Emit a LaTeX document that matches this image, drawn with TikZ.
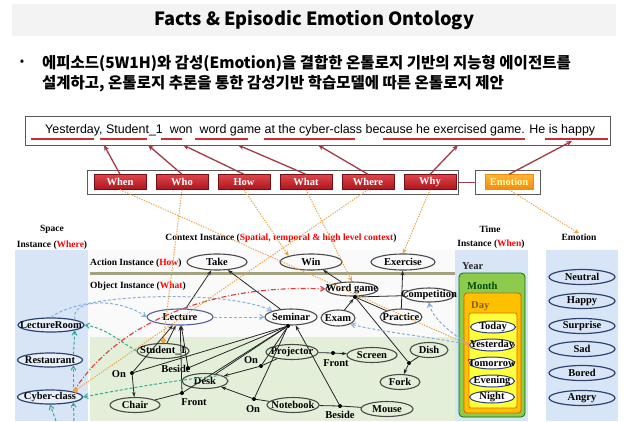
\documentclass[tikz,border=0pt]{standalone}
\usepackage{fontspec}
\setmainfont{Liberation Serif}
\newfontfamily\krfont{Noto Sans CJK KR}
\newfontfamily\snsfont{Liberation Sans}
\usetikzlibrary{shapes.geometric,arrows.meta}
\definecolor{panelblue}{HTML}{D7E5F6}
\definecolor{greenarea}{HTML}{E3EFD9}
\definecolor{navy}{HTML}{2E4372}
\definecolor{ellgray}{HTML}{4A4A4A}
\definecolor{lectblue}{HTML}{55609A}
\definecolor{boxtop}{HTML}{E0454A}
\definecolor{boxbot}{HTML}{A8161C}
\definecolor{darkred}{HTML}{A33A45}
\definecolor{ulred}{HTML}{D22A30}
\definecolor{orangeL}{HTML}{EFA443}
\definecolor{emotop}{HTML}{FFB43A}
\definecolor{emobot}{HTML}{F08C0C}
\definecolor{bluedash}{HTML}{86AEE0}
\definecolor{tealdash}{HTML}{35A89A}
\definecolor{reddash}{HTML}{E23A3A}
\definecolor{bargray}{HTML}{A3A382}
\definecolor{yeargreen}{HTML}{8CCB4E}
\definecolor{monthorange}{HTML}{FFC000}
\definecolor{dayyellow}{HTML}{FFFF3C}
\definecolor{titlegray}{HTML}{F3F3F3}
\newcommand\nodefnt{\fontsize{10.5}{10.5}\selectfont\bfseries}
\newcommand\smallfnt{\fontsize{8.5}{8.5}\selectfont\bfseries}
\begin{document}
\begin{tikzpicture}[x=1pt,y=-1pt,
  el/.style={ellipse, draw=ellgray, line width=1.1pt, inner sep=0pt, minimum height=15pt},
  sp/.style={ellipse, draw=navy, fill=white!40!panelblue, line width=1.2pt, inner sep=0pt, minimum height=14pt, minimum width=65pt},
  em/.style={ellipse, draw=navy, fill=panelblue, line width=1.2pt, inner sep=0pt, minimum height=15pt, minimum width=66pt},
  tm/.style={ellipse, draw=navy, fill=white, line width=1pt, inner sep=0pt, minimum height=12pt, minimum width=45pt,
     every label/.style={font=\smallfnt, inner sep=0pt}},
  every label/.style={font=\nodefnt, inner sep=0pt},
  dotn/.style={circle, fill=black, inner sep=0pt, minimum size=4pt},
  rel/.style={font=\nodefnt, inner sep=0pt},
  ttl/.style={font=\fontsize{9.5}{9.5}\selectfont\bfseries, inner sep=0pt},
  box5/.style={rectangle, top color=boxtop, bottom color=boxbot, draw=boxbot!70!black, line width=0.4pt,
     minimum width=52pt, minimum height=15pt, inner sep=0pt, text=white, font=\fontsize{10.5}{10.5}\selectfont\bfseries},
  arr/.style={draw=black!85, line width=0.8pt, -{Stealth[length=5pt,width=3.5pt]}},
  ln/.style={draw=black!85, line width=0.8pt},
  redarr/.style={draw=darkred, line width=1.3pt, -{Stealth[length=6pt,width=5pt]}},
  uline/.style={draw=ulred, line width=1.3pt},
  odot/.style={draw=orangeL, line width=1pt, dash pattern=on 1.3pt off 1.3pt, -{Stealth[length=5pt,width=4.5pt]}},
  odotc/.style={draw=orangeL, line width=1pt, dash pattern=on 1.3pt off 1.3pt, -{Circle[length=5pt]}},
  bdash/.style={draw=bluedash, line width=1pt, dash pattern=on 3pt off 2pt, -{Straight Barb[length=4pt,width=5pt]}},
  tdash/.style={draw=tealdash, line width=1pt, dash pattern=on 3pt off 2pt, -{Straight Barb[length=4pt,width=5pt]}},
  rdash/.style={draw=reddash, line width=1.1pt, dash pattern=on 5pt off 2pt on 1pt off 2pt, -{Straight Barb[length=4pt,width=5pt]}}
]
\useasboundingbox (0,0) rectangle (628,421);
\fill[white] (0,0) rectangle (628,421);

% ---------- title and bullet text ----------
\fill[titlegray] (12,4) rectangle (616,36);
\node (title) at (314,20) {\resizebox{320pt}{!}{\krfont\bfseries Facts \& Episodic Emotion Ontology}};
\node[font=\krfont\fontsize{13}{13}\selectfont, inner sep=0pt] (bullet) at (22,63) {•};
\node[anchor=west, inner sep=0pt, font=\krfont\bfseries\fontsize{15.5}{15.5}\selectfont] (kr1) at (42,63)
  {에피소드(5W1H)와 감성(Emotion)을 결합한 온톨로지 기반의 지능형 에이전트를};
\node[anchor=west, inner sep=0pt, font=\krfont\bfseries\fontsize{15.5}{15.5}\selectfont] (kr2) at (42,84)
  {설계하고, 온톨로지 추론을 통한 감성기반 학습모델에 따른 온톨로지 제안};

% ---------- sentence ----------
\node[draw=black!65, line width=1pt, fill=white, minimum width=585pt, minimum height=29pt, anchor=north west, inner sep=0pt] (sbox) at (25,116) {};
\node[anchor=west, inner sep=0pt] (sent) at (45,130)
  {\resizebox{550pt}{!}{\snsfont Yesterday, Student\_1\ \ won\ \ word game at the cyber-class because he exercised game. He is happy}};
\draw[uline] (31,139) -- (94,139);
\draw[uline] (100,139) -- (147,139);
\draw[uline] (161,139) -- (182,139);
\draw[uline] (195,139) -- (248,139);
\draw[uline] (264,139) -- (355,139);
\draw[uline] (383,139) -- (525,139);
\draw[uline] (545,139) -- (608,139);
\coordinate (t1) at (104,145);
\coordinate (t2) at (148,145);
\coordinate (t3) at (183,145);
\coordinate (t4) at (238,145);
\coordinate (t5) at (318,145);
\coordinate (t6) at (458,145);
\coordinate (t7) at (572,141);

% ---------- 5W1H boxes ----------
\node[draw=black!65, line width=1.1pt, fill=white, minimum width=371pt, minimum height=24pt, anchor=north west, inner sep=0pt] (frame) at (87,170) {};
\node[draw=black!65, line width=1.1pt, fill=white, minimum width=65pt, minimum height=24pt, anchor=north west, inner sep=0pt] (eframe) at (475,170) {};
\draw[draw=darkred, line width=1.3pt] (frame.east) -- (eframe.west);
\node[box5] (when) at (120,182) {When};
\node[box5] (who) at (182,182) {Who};
\node[box5] (how) at (244,182) {How};
\node[box5] (what) at (306,182) {What};
\node[box5] (where) at (368,182) {Where};
\node[box5] (why) at (430,182) {Why};
\node[box5, top color=emotop, bottom color=emobot, draw=emobot, text=yellow!35!white, minimum width=48pt] (emo) at (509,182) {Emotion};
\draw[redarr] (when.north) -- (t1);
\draw[redarr] (who.north) -- (t2);
\draw[redarr] (how.north) -- (t3);
\draw[redarr] (what.north) -- (t4);
\draw[redarr] (where.north) -- (t5);
\draw[redarr] (why.north) -- (t6);
\draw[redarr] (emo.north) -- (t7);

% ---------- panels ----------
\fill[panelblue] (15,250) rectangle (88,421);
\fill[black!2] (88,250) rectangle (455,337);
\fill[greenarea] (90,337) rectangle (455,421);
\draw[bargray, line width=3pt] (90,273) -- (455,273);
\fill[panelblue] (455,250) rectangle (528,421);
\fill[panelblue] (546,250) rectangle (618,421);
\draw[rounded corners=4pt, fill=yeargreen, draw=green!45!black, line width=0.8pt] (459,273) rectangle (525,417);
\draw[rounded corners=3pt, fill=monthorange, draw=orange!80!black, line width=0.8pt] (464,293) rectangle (521,413);
\draw[rounded corners=2pt, fill=dayyellow, draw=orange!85!black, line width=0.8pt] (469,313) rectangle (517,408);

% ---------- panel titles ----------
\node[ttl] (spt1) at (52,229) {Space};
\node[ttl] (spt2) at (52,245) {Instance (\textcolor{red}{Where})};
\node[ttl] (ctx) at (281,238) {Context Instance (\textcolor{red}{Spatial, temporal \& high level context})};
\node[ttl, anchor=west] (act) at (90,263) {Action Instance (\textcolor{red}{How})};
\node[ttl, anchor=west] (obj) at (90,286) {Object Instance (\textcolor{red}{What})};
\node[ttl] (tmt1) at (490,229) {Time};
\node[ttl] (tmt2) at (491,244) {Instance (\textcolor{red}{When})};
\node[ttl] (emt) at (579,237) {Emotion};
\node[ttl, anchor=west, font=\fontsize{10.5}{10.5}\selectfont\bfseries, text=black!85] (year) at (462,266) {Year};
\node[ttl, anchor=west, font=\fontsize{10.5}{10.5}\selectfont\bfseries, text=green!30!black] (month) at (467,286) {Month};
\node[ttl, anchor=west, font=\fontsize{10.5}{10.5}\selectfont\bfseries, text=brown!70!black] (day) at (471,306) {Day};

% ---------- space nodes ----------
\node[sp, minimum width=66pt, label={center:LectureRoom}] (lroom) at (51,325) {};
\node[sp, label={center:Restaurant}] (rest) at (50,360) {};
\node[sp, label={center:Cyber-class}] (cyber) at (50,397) {};

% ---------- action nodes ----------
\node[el, minimum width=60pt, minimum height=16pt, label={center:Take}] (take) at (217,262) {};
\node[el, minimum width=62pt, minimum height=16pt, label={center:Win}] (win) at (311,262) {};
\node[el, minimum width=64pt, minimum height=16pt, label={center:Exercise}] (exer) at (403,262) {};

% ---------- object nodes ----------
\node[el, draw=lectblue, minimum width=66pt, minimum height=16pt, label={center:Lecture}] (lect) at (180,317) {};
\node[el, minimum width=52pt, minimum height=16pt, label={center:Seminar}] (sem) at (291,317) {};
\node[el, minimum width=52pt, minimum height=14pt, label={center:Word game}] (wg) at (352,289) {};
\node[el, minimum width=50pt, minimum height=14pt, label={center:Competition}] (comp) at (429,295) {};
\node[el, minimum width=34pt, minimum height=16pt, label={center:Exam}] (exam) at (338,318) {};
\node[el, minimum width=42pt, minimum height=16pt, label={center:Practice}] (prac) at (401,317) {};

% ---------- green-area nodes ----------
\node[el, minimum width=52pt, label={center:Student\_1}] (stud) at (163,351) {};
\node[el, minimum width=46pt, label={center:Desk}] (desk) at (205,381) {};
\node[el, minimum width=50pt, label={center:Chair}] (chair) at (135,405) {};
\node[el, minimum width=52pt, label={center:Projector}] (proj) at (292,352) {};
\node[el, minimum width=50pt, label={center:Screen}] (screen) at (372,355) {};
\node[el, minimum width=38pt, label={center:Dish}] (dish) at (429,350) {};
\node[el, minimum width=40pt, label={center:Fork}] (fork) at (400,382) {};
\node[el, minimum width=52pt, label={center:Notebook}] (note) at (293,405) {};
\node[el, minimum width=52pt, label={center:Mouse}] (mouse) at (387,409) {};

% relation dots and labels
\node[dotn] (on1) at (132,373) {};
\node[rel] (on1l) at (119,374) {On};
\node[dotn] (bes1) at (188,368) {};
\node[rel] (bes1l) at (176,369) {Beside};
\node[dotn] (fr1) at (182,393) {};
\node[rel] (fr1l) at (194,402) {Front};
\node[dotn] (on2) at (261,366) {};
\node[rel] (on2l) at (251,360) {On};
\node[dotn] (on3) at (254,399) {};
\node[rel] (on3l) at (253,409) {On};
\node[dotn] (fr2) at (333,353) {};
\node[rel] (fr2l) at (336,363) {Front};
\node[dotn] (bes2) at (340,406) {};
\node[rel] (bes2l) at (340,415) {Beside};
\node[dotn] (fdot) at (409,363) {};
\node[dotn] (wgdot) at (355,297) {};
\node[dotn] (semdot) at (288,326) {};

% ---------- time nodes ----------
\node[tm, label={center:Today}] (today) at (493,327) {};
\node[tm, label={center:Yesterday}] (yest) at (492,345) {};
\node[tm, label={center:Tomorrow}] (tom) at (492,363) {};
\node[tm, label={center:Evening}] (eve) at (492,381) {};
\node[tm, label={center:Night}] (night) at (492,397) {};

% ---------- emotion nodes ----------
\node[em, label={center:Neutral}] (neu) at (582,277) {};
\node[em, label={center:Happy}] (hap) at (582,301) {};
\node[em, label={center:Surprise}] (sur) at (582,326) {};
\node[em, label={center:Sad}] (sad) at (582,349) {};
\node[em, label={center:Bored}] (bor) at (582,373) {};
\node[em, label={center:Angry}] (ang) at (582,398) {};

% ---------- black relations ----------
\draw[arr] (lect) -- (take);
\draw[arr] (sem) -- (take);
\draw[arr] (wg) -- (win);
\draw[arr] (prac) -- (exer);
\draw[arr] (exam) -- (wgdot);
\draw[ln] (comp) -- (wgdot);
\draw[ln] (prac) -- (wgdot);
\draw[ln] (fdot) -- (wgdot);
\draw[ln] (dish) -- (fdot);
\draw[arr] (fdot) -- (fork);
\draw[arr] (stud) -- (lect);
\draw[arr] (on1) -- (lect);
\draw[arr] (on1) -- (chair);
\draw[ln] (on1) -- (semdot);
\draw[arr] (bes1) -- (lect);
\draw[ln] (bes1) -- (semdot);
\draw[arr] (fr1) -- (lect);
\draw[ln] (chair) -- (fr1);
\draw[ln] (fr1) -- (semdot);
\draw[ln] (desk) -- (semdot);
\draw[ln] (proj) -- (on2);
\draw[arr] (on2) -- (desk);
\draw[ln] (on2) -- (semdot);
\draw[ln] (note) -- (on3);
\draw[arr] (on3) -- (desk);
\draw[ln] (on3) -- (semdot);
\draw[ln] (proj) -- (fr2);
\draw[arr] (fr2) -- (screen);
\draw[ln] (note) -- (bes2);
\draw[ln] (bes2) -- (mouse);
\draw[arr] (bes2) -- (sem);

% ---------- dashed relations ----------
\draw[bdash] (lroom.north east) .. controls (70,298) and (120,298) .. (lect.west);
\draw[bdash] (lroom.north) .. controls (80,292) and (230,290) .. (sem.north west);
\draw[bdash] (lect) -- (sem);
\draw[bdash] (yest.west) .. controls (440,338) and (380,332) .. (exam.south east);
\draw[bdash] (yest.west) .. controls (450,332) and (432,318) .. (comp.south);
\draw[rdash] (cyber.north east) .. controls (120,318) and (220,284) .. (wg.west);
\draw[tdash] (cyber.north east) -- (rest.south east);
\draw[tdash] (rest.north east) -- (lroom.south east);
\coordinate (cb1) at (56,421);
\coordinate (cb2) at (74,421);
\draw[tdash] (cb1) -- (cyber.south);
\draw[tdash] (cb2) -- (cyber.south east);
\draw[tdash] (stud.west) .. controls (118,340) and (105,328) .. (lroom.east);
\draw[tdash] (desk.north east) .. controls (160,382) and (110,392) .. (cyber.east);

% ---------- orange 5W1H links ----------
\draw[odot] (when.south) -- (yest.west);
\draw[odotc] (who.south) -- (stud.north);
\draw[odot] (how.south) -- (win.north west);
\draw[odot] (what.south) -- (wg.north);
\draw[odotc] (where.south) -- (cyber.north east);
\draw[odot] (why.south) -- (exer.north);
\draw[odot] (emo.south) -- (emt.north);
\end{tikzpicture}
\end{document}
